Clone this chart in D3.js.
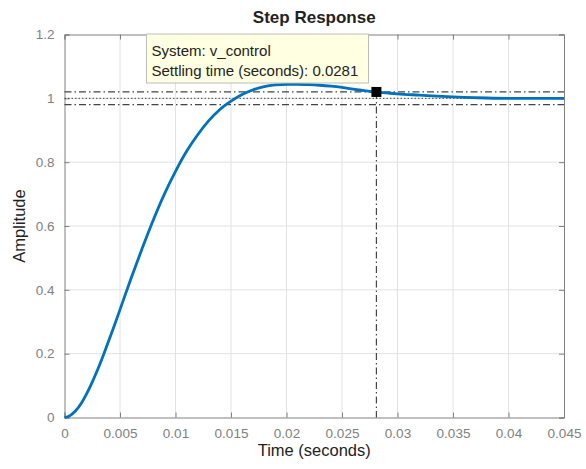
<!DOCTYPE html>
<html>
<head>
<meta charset="utf-8">
<script src="https://cdn.jsdelivr.net/npm/d3@7"></script>
<style>
  body { margin: 0; background: #fff; }
  svg { font-family: "Liberation Sans", Arial, sans-serif; }
</style>
</head>
<body>
<svg id="chart"></svg>
<script>
// step response
const time = [0, 0.0005, 0.001, 0.0015, 0.002, 0.0025, 0.003, 0.0035, 0.004, 0.0045,
  0.005, 0.006, 0.007, 0.008, 0.009, 0.010, 0.011, 0.012, 0.013, 0.014, 0.015,
  0.016, 0.017, 0.018, 0.019, 0.020, 0.021, 0.022, 0.023, 0.024, 0.025, 0.026,
  0.027, 0.028, 0.029, 0.030, 0.032, 0.034, 0.036, 0.038, 0.040, 0.042, 0.045];
const amplitude = [0, 0.006, 0.021, 0.044, 0.075, 0.111, 0.151, 0.195, 0.242, 0.289,
  0.338, 0.436, 0.530, 0.619, 0.700, 0.771, 0.834, 0.886, 0.930, 0.965, 0.991,
  1.012, 1.027, 1.037, 1.042, 1.044, 1.044, 1.043, 1.041, 1.038, 1.034, 1.029,
  1.024, 1.020, 1.017, 1.014, 1.010, 1.006, 1.003, 1.001, 1.000, 1.000, 1.000];

const xTicks = [0, 0.005, 0.01, 0.015, 0.02, 0.025, 0.03, 0.035, 0.04, 0.045];
const xTickLabels = ['0', '0.005', '0.01', '0.015', '0.02', '0.025', '0.03', '0.035', '0.04', '0.045'];
const yTicks = [0, 0.2, 0.4, 0.6, 0.8, 1, 1.2];
const yTickLabels = ['0', '0.2', '0.4', '0.6', '0.8', '1', '1.2'];

const settlingTime = 0.0281;
const settlingValue = 1.02;
const bandHigh = 1.02, bandLow = 0.98, finalValue = 1;
const tipLines = ['System: v_control', 'Settling time (seconds): 0.0281'];

const W = 586, H = 469;
const margin = { top: 34.5, right: 22, bottom: 51.5, left: 64.5 };
const width = W - margin.left - margin.right;
const height = H - margin.top - margin.bottom;

const svg = d3.select('#chart').attr('width', W).attr('height', H);
const g = svg.append('g').attr('transform', `translate(${margin.left},${margin.top})`);

const x = d3.scaleLinear().domain([0, 0.045]).range([0, width]);
const y = d3.scaleLinear().domain([0, 1.2]).range([height, 0]);

// grid
g.append('g').selectAll('line').data(xTicks.slice(1, -1)).enter().append('line')
  .attr('x1', d => x(d)).attr('x2', d => x(d)).attr('y1', 0).attr('y2', height)
  .attr('stroke', '#e2e2e2').attr('stroke-width', 1);
g.append('g').selectAll('line').data(yTicks.slice(1, -1)).enter().append('line')
  .attr('y1', d => y(d)).attr('y2', d => y(d)).attr('x1', 0).attr('x2', width)
  .attr('stroke', '#e2e2e2').attr('stroke-width', 1);

// axes (ticks inside, box)
g.append('g').attr('transform', `translate(0,${height})`)
  .call(d3.axisBottom(x).tickValues(xTicks).tickSize(-5).tickPadding(11)
    .tickFormat((d, i) => xTickLabels[i]));
g.append('g')
  .call(d3.axisLeft(y).tickValues(yTicks).tickSize(-5).tickPadding(10)
    .tickFormat((d, i) => yTickLabels[i]));
g.append('g')
  .call(d3.axisTop(x).tickValues(xTicks).tickSize(-5).tickFormat(''));
g.append('g').attr('transform', `translate(${width},0)`)
  .call(d3.axisRight(y).tickValues(yTicks).tickSize(-5).tickFormat(''));

g.selectAll('.domain').attr('stroke', '#808080');
g.selectAll('.tick line').attr('stroke', '#808080');
g.selectAll('.tick text').attr('fill', '#808080').attr('font-size', 13.5)
  .attr('font-family', '"Liberation Sans", Arial, sans-serif');

// settling band
const dashDot = '7,3,1.5,3';
g.selectAll('.band').data([bandHigh, bandLow]).enter().append('line')
  .attr('x1', 0).attr('x2', width).attr('y1', d => y(d)).attr('y2', d => y(d))
  .attr('stroke', '#444').attr('stroke-width', 1.2).attr('stroke-dasharray', dashDot);
g.append('line')
  .attr('x1', 0).attr('x2', width).attr('y1', y(finalValue)).attr('y2', y(finalValue))
  .attr('stroke', '#444').attr('stroke-width', 1).attr('stroke-dasharray', '1.5,2');
g.append('line')
  .attr('x1', x(settlingTime)).attr('x2', x(settlingTime))
  .attr('y1', y(settlingValue)).attr('y2', height)
  .attr('stroke', '#444').attr('stroke-width', 1.2).attr('stroke-dasharray', dashDot);

// response curve
const line = d3.line().x((d, i) => x(time[i])).y(d => y(d)).curve(d3.curveMonotoneX);
g.append('path').datum(amplitude).attr('d', line)
  .attr('fill', 'none').attr('stroke', '#0072BD').attr('stroke-width', 2.8);

// marker
g.append('rect')
  .attr('x', x(settlingTime) - 5).attr('y', y(settlingValue) - 5)
  .attr('width', 10).attr('height', 10).attr('fill', '#000');

// datatip
const tip = svg.append('g');
tip.append('rect').attr('x', 146.5).attr('y', 34).attr('width', 222).attr('height', 49)
  .attr('fill', '#ffffe1').attr('stroke', '#bdbdbd').attr('stroke-width', 1);
tip.selectAll('text').data(tipLines).enter().append('text')
  .attr('x', 151.5).attr('y', (d, i) => 56 + i * 19.5)
  .attr('font-size', 15).attr('fill', '#222').text(d => d);

// labels
svg.append('text').attr('x', margin.left + width / 2).attr('y', 23)
  .attr('text-anchor', 'middle').attr('font-weight', 'bold').attr('font-size', 17)
  .attr('fill', '#222').text('Step Response');
svg.append('text').attr('x', margin.left + width / 2).attr('y', 456)
  .attr('text-anchor', 'middle').attr('font-size', 16.5).attr('fill', '#222')
  .text('Time (seconds)');
svg.append('text').attr('transform', `translate(24.5,${margin.top + height / 2}) rotate(-90)`)
  .attr('text-anchor', 'middle').attr('font-size', 16.5).attr('fill', '#222')
  .text('Amplitude');
</script>
</body>
</html>
